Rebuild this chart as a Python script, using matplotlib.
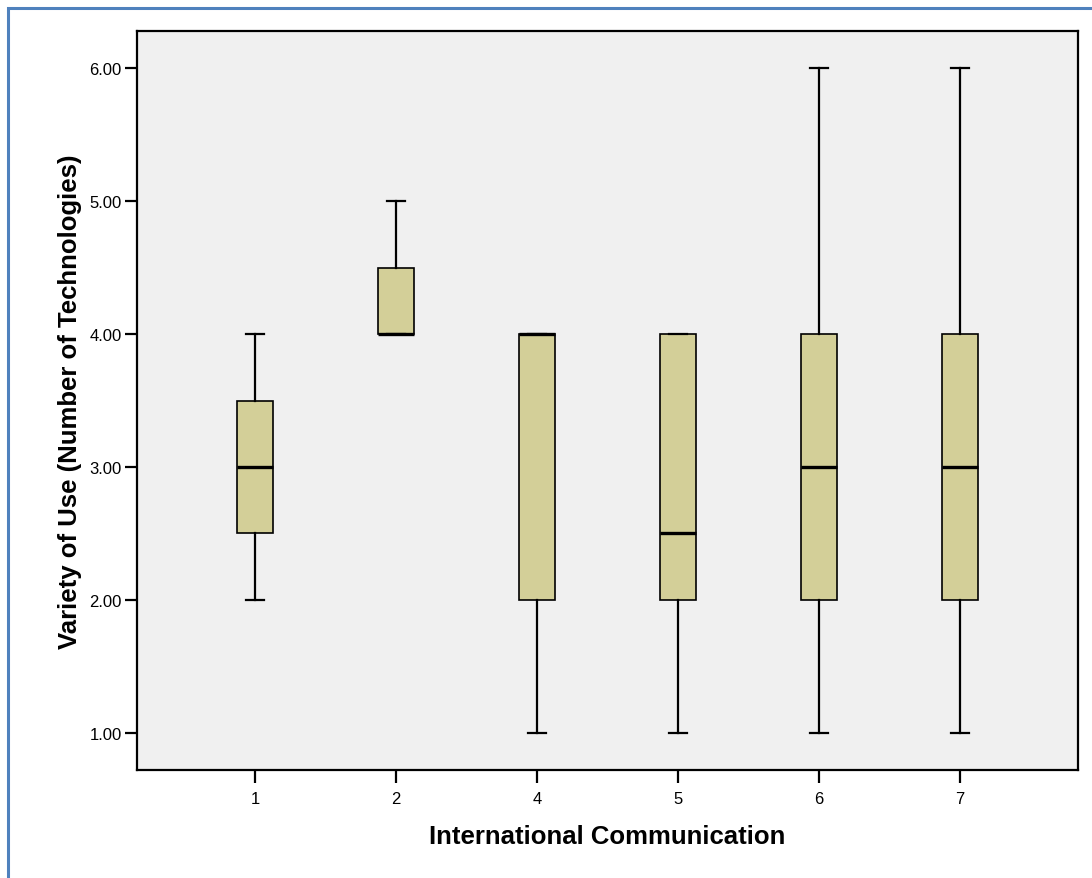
import matplotlib.pyplot as plt
from matplotlib.patches import Rectangle

plt.rcParams['font.family'] = ['Liberation Sans', 'DejaVu Sans']

# International Communication groups and their box summaries
groups = ['1', '2', '4', '5', '6', '7']
whisker_low = [2.0, 4.0, 1.0, 1.0, 1.0, 1.0]
q1 = [2.5, 4.0, 2.0, 2.0, 2.0, 2.0]
medians = [3.0, 4.0, 4.0, 2.5, 3.0, 3.0]
q3 = [3.5, 4.5, 4.0, 4.0, 4.0, 4.0]
whisker_high = [4.0, 5.0, 4.0, 4.0, 6.0, 6.0]
y_ticks = [1, 2, 3, 4, 5, 6]

stats = []
for i in range(len(groups)):
    stats.append({'label': groups[i], 'whislo': whisker_low[i], 'q1': q1[i],
                  'med': medians[i], 'q3': q3[i], 'whishi': whisker_high[i],
                  'fliers': []})

fig = plt.figure(figsize=(10.92, 8.79), dpi=100)
ax = fig.add_axes([137 / 1092, 1 - 771 / 879, 941 / 1092, 739 / 879])
ax.set_facecolor('#f0f0f0')

positions = list(range(len(groups)))
ax.bxp(stats, positions=positions, widths=0.26, patch_artist=True,
       showfliers=False, capwidths=0.13,
       boxprops=dict(facecolor='#d3cf98', edgecolor='black', linewidth=1.2),
       medianprops=dict(color='black', linewidth=2.4, solid_capstyle='butt'),
       whiskerprops=dict(color='black', linewidth=1.6),
       capprops=dict(color='black', linewidth=1.6))

ax.set_xlim(-0.837, len(groups) - 1 + 0.837)
ax.set_ylim(0.721, 6.279)
ax.set_xticks(positions)
ax.set_xticklabels(groups)
ax.set_yticks(y_ticks)
ax.set_yticklabels(['%.2f' % t for t in y_ticks])
ax.tick_params(axis='both', labelsize=12, length=9, width=1.6, color='black')
ax.tick_params(axis='y', pad=2)
ax.tick_params(axis='x', pad=6)

for s in ax.spines.values():
    s.set_linewidth(1.6)

ax.set_xlabel('International Communication', fontsize=18.5, fontweight='bold', labelpad=13)
ax.set_ylabel('Variety of Use (Number of Technologies)', fontsize=18.5,
              fontweight='bold', labelpad=5)

# blue frame around the chart
fig.patches.append(Rectangle((8 / 1092, -0.1), 1.2, 1 - 9 / 879 + 0.1,
                             transform=fig.transFigure, fill=False,
                             edgecolor='#4f81bd', linewidth=2.2))

fig.savefig('out.png', dpi=100)
